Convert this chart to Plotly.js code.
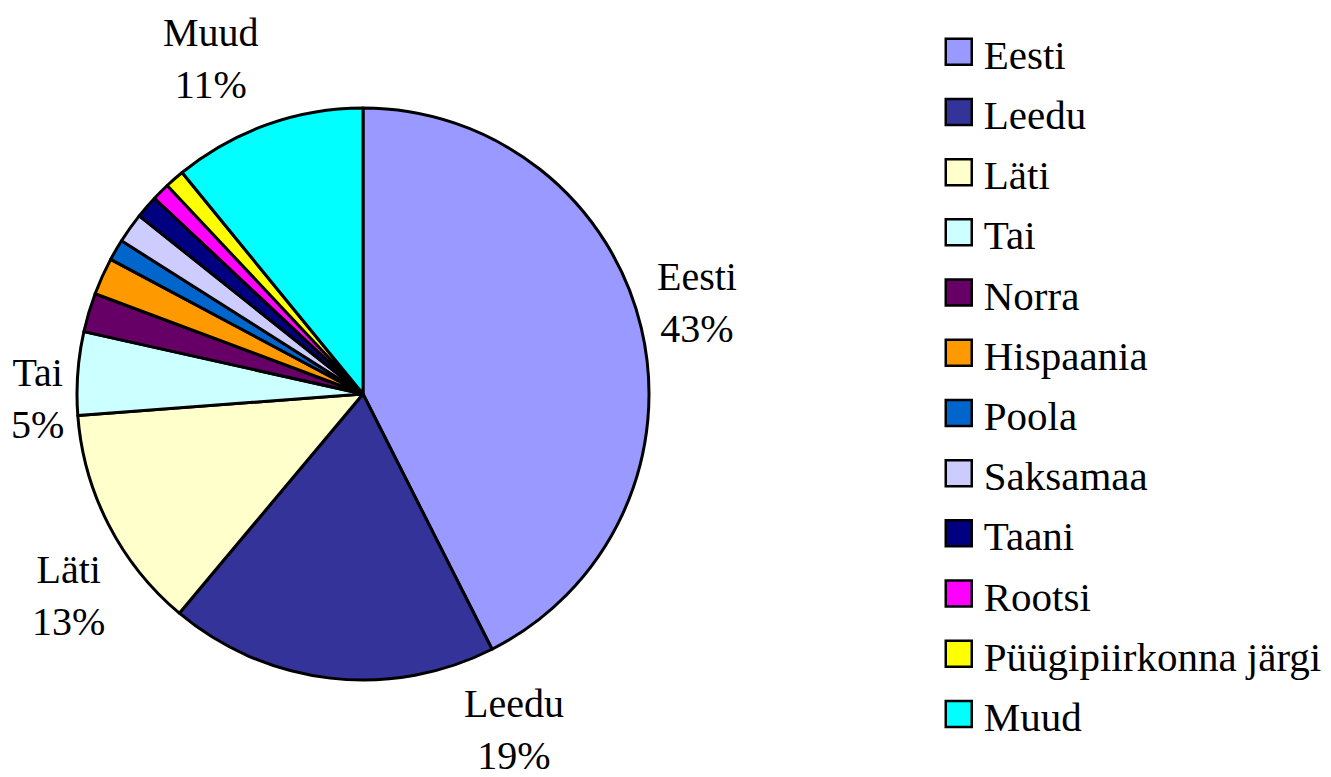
<!DOCTYPE html>
<html>
<head>
<meta charset="utf-8">
<script src="https://cdn.plot.ly/plotly-3.0.1.min.js"></script>
</head>
<body style="margin:0;background:#fff">
<div id="chart" style="width:1331px;height:777px"></div>
<script>
const categories = ["Eesti","Leedu","Läti","Tai","Norra","Hispaania","Poola","Saksamaa","Taani","Rootsi","Püügipiirkonna järgi","Muud"];
const shares = [42.55, 18.55, 12.7, 4.7, 2.2, 2.1, 1.2, 1.7, 1.3, 1.0, 1.1, 10.9];
const colors = ["#9999FF","#333399","#FFFFCC","#CCFFFF","#660066","#FF9900","#0066CC","#CCCCFF","#000080","#FF00FF","#FFFF00","#00FFFF"];
const labelPos = {"Eesti": [697, 302], "Leedu": [514, 729], "Läti": [68, 595], "Tai": [37, 398], "Muud": [211, 58]};

const W = 1331, H = 777;
const cx = 363, cy = 394, r = 286;
const SERIF = "Liberation Serif";

const total = shares.reduce((a, b) => a + b, 0);
const annotations = categories.map((c, i) => {
  if (!labelPos[c]) return null;
  return {
    xref: "paper", yref: "paper",
    x: labelPos[c][0] / W, y: 1 - labelPos[c][1] / H,
    xanchor: "center", yanchor: "middle",
    text: c + "<br>" + Math.round(shares[i] / total * 100) + "%",
    showarrow: false, align: "center",
    font: {family: SERIF, size: 40, color: "#000"}
  };
}).filter(Boolean);

const trace = {
  type: "pie",
  labels: categories,
  values: shares,
  sort: false,
  direction: "clockwise",
  rotation: 0,
  marker: {colors: colors, line: {color: "#000", width: 3}},
  textinfo: "none",
  hoverinfo: "label+percent",
  domain: {x: [(cx - r) / W, (cx + r) / W], y: [(H - cy - r) / H, (H - cy + r) / H]}
};

const layout = {
  width: W, height: H,
  margin: {l: 0, r: 0, t: 0, b: 0, autoexpand: false},
  paper_bgcolor: "#fff",
  font: {family: SERIF, size: 40, color: "#000"},
  showlegend: true,
  annotations: annotations,
  legend: {x: 0.7053, y: 0.9786, xanchor: "left", yanchor: "top", font: {family: SERIF, size: 44, color: "#000"}, bgcolor: "rgba(0,0,0,0)", itemwidth: 30}
};

const gd = document.getElementById("chart");
Plotly.newPlot(gd, [trace], layout, {displayModeBar: false, staticPlot: true}).then(() => {
  gd.querySelectorAll(".legend .traces").forEach(g => {
    const p = g.querySelector(".legendpoints path");
    if (p) { p.setAttribute("d", "M13,13H-13V-13H13Z"); p.style.strokeWidth = "2.5px"; p.style.stroke = "#000"; }
    const t = g.querySelector("text.legendtext");
    if (t) { t.style.fontSize = "41px"; t.setAttribute("x", (parseFloat(t.getAttribute("x")) || 40) + 5); }
  });
});
</script>
</body>
</html>
